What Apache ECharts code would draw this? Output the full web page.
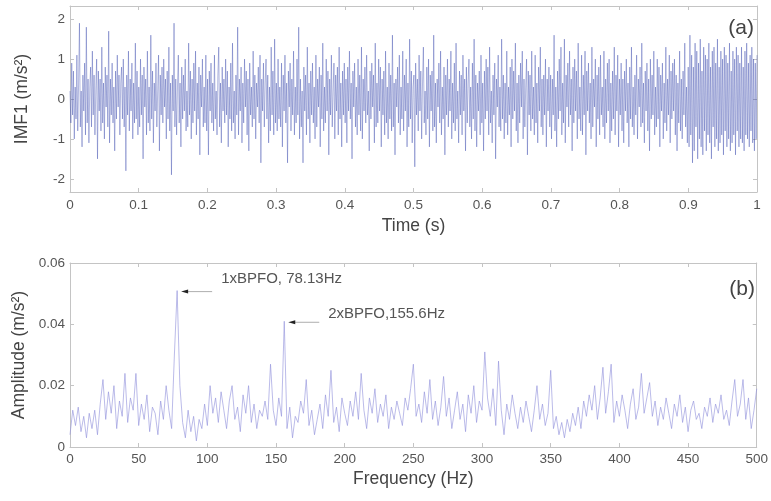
<!DOCTYPE html>
<html>
<head>
<meta charset="utf-8">
<script src="https://cdn.jsdelivr.net/npm/echarts@6/dist/echarts.min.js"></script>
<style>html,body{margin:0;padding:0;background:#fff}#c{width:771px;height:501px}</style>
</head>
<body>
<div id="c"></div>
<script>
// ---- Data ----
const timeTicks = [0, 0.1, 0.2, 0.3, 0.4, 0.5, 0.6, 0.7, 0.8, 0.9, 1];
const imfTicks = [-2, -1, 0, 1, 2];
const freqTicks = [0, 50, 100, 150, 200, 250, 300, 350, 400, 450, 500];
const ampTicks = [0, 0.02, 0.04, 0.06];

// IMF1 time signal (m/s^2), evenly sampled over 0..1 s
const imf1 = [
0.2,-0.6,0.9,-0.4,0.7,-1.0,0.3,-0.5,1.1,-0.8,0.4,1.9,-0.7,0.2,-1.2,0.6,-0.3,0.9,-0.9,1.8,
-0.6,0.5,-1.1,0.3,0.8,-0.7,1.2,-0.4,0.6,-0.9,0.2,1.0,-1.5,0.7,-0.3,0.5,-0.8,1.3,-0.6,0.4,
-1.0,0.8,-0.2,0.6,-0.7,1.7,-1.1,0.5,-0.4,0.9,-0.6,0.3,-1.3,0.7,-0.5,1.1,-0.2,0.6,-0.9,0.4,
0.8,-0.5,1.0,-0.7,0.3,-1.8,0.6,-0.4,1.2,-0.8,0.5,-0.3,0.9,-1.0,0.4,-0.6,1.4,-0.5,0.7,-0.9,
0.3,-0.7,1.0,-0.4,0.6,-1.5,0.8,-0.2,0.5,-0.9,1.2,-0.6,0.3,-0.8,1.6,-0.5,0.7,-1.1,0.4,-0.3,
0.9,-0.7,0.2,1.1,-1.3,0.6,-0.4,0.8,-0.6,1.0,-0.2,0.5,-1.0,0.7,-0.5,1.3,-0.8,0.4,-1.9,0.6,
-0.3,1.9,-0.7,0.5,-0.9,0.3,1.1,-0.6,0.4,-1.2,0.8,-0.5,0.6,-0.3,1.0,-0.8,0.2,-0.7,1.4,-0.4,
0.7,-1.0,0.5,-0.6,0.9,-0.3,1.2,-0.9,0.4,-0.5,0.8,-1.4,0.6,-0.2,1.0,-0.7,0.3,-0.6,1.1,-0.8,
0.5,-1.4,0.7,-0.3,0.9,-0.6,0.4,-0.8,1.1,-0.5,0.2,-0.9,0.6,1.3,-0.7,0.4,-1.1,0.8,-0.3,0.5,
-0.6,1.0,-0.4,0.7,-1.2,0.3,-0.5,0.9,-0.8,1.4,-0.6,0.2,-1.0,0.6,-0.4,1.8,-0.9,0.5,-0.3,0.8,
-1.1,0.4,-0.6,1.0,-0.2,0.7,-0.9,0.5,-1.3,0.9,-0.4,0.3,-0.7,1.2,-0.5,0.6,-1.0,0.4,-0.2,0.8,
-0.6,1.1,-1.6,0.5,-0.3,0.9,-0.7,0.4,1.0,-0.5,0.6,-1.1,0.3,-0.8,1.3,-0.4,0.7,-0.9,1.5,-0.6,
0.4,-0.8,1.0,-0.5,0.3,-0.7,0.9,-1.2,0.6,-0.3,1.1,-0.6,0.4,-1.6,0.7,-0.2,0.9,-0.8,0.5,-0.4,
1.2,-0.9,0.3,-0.6,1.0,-0.4,1.8,-1.0,0.5,-0.7,0.2,-1.6,0.8,-0.3,0.6,-0.9,1.3,-0.5,0.4,-1.1,
0.7,-0.4,0.9,-0.6,0.3,-1.0,1.1,-0.7,0.5,-0.2,0.8,-1.2,0.6,-0.5,1.4,-0.8,0.3,-0.6,1.0,-0.3,
0.7,-1.4,0.5,-0.4,1.1,-0.7,0.2,0.9,-1.0,0.6,-0.3,0.8,-0.9,1.3,-0.5,0.4,-1.2,0.7,-0.4,0.9,
-0.6,0.5,-1.1,0.8,-0.3,1.2,-0.5,0.4,-1.5,0.7,-0.2,0.9,-0.7,0.3,-0.9,1.0,-0.4,0.6,-0.8,1.3,
-1.0,0.5,-0.3,0.8,-0.6,1.1,-0.4,0.2,-1.3,0.7,-0.5,0.9,-0.2,0.6,-1.1,1.4,-0.7,0.4,-0.6,1.0,
-0.3,0.8,-1.2,0.5,-0.4,0.7,-0.9,1.2,-0.6,0.3,-1.0,0.9,-0.5,0.6,-0.8,1.6,-0.7,0.4,-1.4,0.5,
-0.2,0.8,-0.6,1.1,-0.9,0.3,-0.5,1.2,-0.8,0.6,-0.3,1.0,-1.2,0.4,-0.7,1.5,-0.5,0.7,-1.1,0.3,
0.6,-1.7,0.9,-0.4,0.5,-0.8,1.1,-0.3,0.7,-1.0,0.4,1.3,-0.6,0.2,-0.9,0.8,-0.5,1.0,-1.2,0.6,
-0.3,0.7,-0.8,1.6,-0.7,0.4,-1.1,0.5,-0.2,0.9,-0.6,1.2,-0.9,0.3,-0.5,0.8,-1.4,0.6,-0.4,1.0,
-0.7,0.5,-0.3,1.2,-1.0,0.4,-0.6,0.9,-0.8,1.4,-0.5,0.2,-1.1,0.7,-0.4,0.6,-0.9,1.1,-0.3,0.5,
-1.3,0.8,-0.6,0.4,1.0,-0.7,0.3,-1.0,0.9,-0.5,1.5,-0.8,0.6,-1.2,0.4,-0.3,0.7,-0.9,1.1,-0.6,
0.4,-1.3,0.7,-0.5,1.0,-0.3,0.8,-0.9,1.3,-0.6,0.2,-1.1,0.6,-0.4,0.9,-1.5,0.5,-0.2,1.1,-0.7,
0.3,-0.8,1.5,-0.5,0.6,-1.0,0.4,-0.6,1.2,-0.9,0.3,-0.4,0.8,-1.2,1.0,-0.5,0.7,-0.3,1.4,-0.8,
0.4,-1.1,0.6,-0.6,0.9,-0.2,1.2,-1.0,0.5,-0.7,0.3,1.0,-1.4,0.7,-0.4,0.6,-0.8,1.2,-0.5,0.3,
-0.9,1.1,-0.6,0.4,-1.1,0.8,-0.3,1.3,-0.7,0.5,-0.9,0.6,-0.4,1.0,-1.2,0.5,-0.3,0.8,-0.7,0.6,
-1.0,0.5,-0.4,1.6,-0.8,0.3,-1.2,0.7,-0.5,1.0,-0.3,1.3,-0.9,0.4,-0.6,1.5,-1.1,0.6,-0.2,0.9,
-0.7,1.2,-0.4,0.5,-1.3,0.8,-0.6,1.0,-0.3,0.7,-1.0,1.4,-0.5,0.3,-0.8,1.1,-0.9,0.6,-0.4,1.2,
-1.4,0.7,-0.3,0.9,-0.6,0.4,-1.0,1.3,-0.7,0.5,-0.2,1.0,-1.2,0.6,-0.5,0.8,-0.9,1.1,-0.4,0.3,
-0.7,1.2,-1.0,0.5,-0.6,0.9,-0.3,1.0,-1.1,0.4,-0.8,0.7,-0.5,1.3,-0.9,0.6,-0.3,1.1,-1.2,0.5,
-0.4,0.9,-0.8,0.5,-1.1,0.7,-0.3,1.0,-0.6,0.4,-1.2,0.8,-0.5,1.3,-0.7,0.3,-0.9,0.6,-0.4,1.1,
-1.0,0.5,-0.2,0.8,-0.7,1.4,-0.6,0.4,-1.1,0.7,-0.3,0.9,-0.8,0.5,-1.3,1.0,-0.5,0.6,-0.4,1.2,
-0.9,0.3,-0.7,1.0,-0.5,0.8,-1.2,0.6,-0.3,0.9,-1.0,0.4,-0.6,1.3,-0.8,0.5,-0.4,1.1,-1.1,0.7,
-0.5,0.9,-0.3,1.0,-0.9,0.6,-1.3,0.4,-0.6,1.2,-0.8,0.5,-1.0,0.7,-0.4,1.4,-0.7,0.3,-1.1,0.8,
-1.2,1.6,-0.9,1.1,-1.6,0.8,-1.3,1.4,-0.7,1.2,-1.5,0.9,-1.0,1.5,-1.2,0.7,-1.4,1.3,-0.8,1.1,
-1.3,1.0,-0.9,1.4,-1.1,0.8,-1.5,1.2,-0.7,1.3,-1.2,0.9,-1.0,1.5,-1.3,0.8,-1.1,1.2,-0.9,1.0,
-1.4,1.3,-0.8,1.1,-1.2,0.9,-1.0,1.4,-1.3,0.7,-1.1,1.2,-0.9,1.0,-1.4,1.3,-0.8,1.1,-1.2,0.9,
-1.0,1.3,-1.1,0.8,-1.3,1.2,-0.9,1.4,-1.0,0.9,-1.2,1.1,-0.8,1.3,-1.1,1.0,-1.3,0.9,-1.0,1.1
];

// Amplitude spectrum (m/s^2), evenly spaced bins over 0..500 Hz
const spectrum = [
0.004,0.012,0.007,0.013,0.005,0.010,0.003,0.011,0.006,0.012,0.004,
0.014,0.022,0.009,0.018,0.011,0.020,0.006,0.015,0.010,0.024,
0.008,0.016,0.012,0.024,0.007,0.014,0.009,0.017,0.005,0.013,
0.011,0.004,0.015,0.009,0.020,0.012,0.006,0.030,0.051,
0.020,0.008,0.003,0.012,0.005,0.010,0.002,0.009,0.006,0.014,0.007,
0.020,0.011,0.016,0.008,0.018,0.012,0.006,0.015,0.020,0.009,
0.013,0.005,0.017,0.011,0.020,0.008,0.014,0.006,0.012,0.010,
0.015,0.009,0.027,0.012,0.007,0.016,0.010,0.041,
0.006,0.013,0.003,0.010,0.008,0.015,0.011,0.022,0.007,0.012,0.004,0.009,
0.014,0.006,0.017,0.010,0.025,0.008,0.013,0.005,0.016,0.011,
0.007,0.015,0.010,0.018,0.009,0.024,0.012,0.006,0.016,0.011,
0.019,0.008,0.014,0.010,0.017,0.006,0.013,0.009,0.015,0.011,
0.007,0.016,0.012,0.019,0.027,0.010,0.014,0.008,0.018,0.011,
0.022,0.009,0.015,0.007,0.013,0.023,0.010,0.016,0.006,0.012,
0.018,0.009,0.014,0.005,0.017,0.011,0.020,0.008,0.015,0.012,
0.031,0.016,0.010,0.019,0.007,0.028,0.012,0.004,0.014,0.009,
0.017,0.011,0.006,0.013,0.008,0.015,0.010,0.005,0.012,0.020,
0.009,0.014,0.007,0.011,0.025,0.006,0.010,0.004,0.008,0.003,
0.009,0.005,0.011,0.007,0.013,0.006,0.015,0.010,0.017,0.012,
0.020,0.009,0.016,0.026,0.011,0.018,0.027,0.008,0.015,0.010,
0.017,0.012,0.006,0.014,0.019,0.009,0.013,0.024,0.011,0.016,
0.021,0.010,0.015,0.007,0.013,0.009,0.016,0.011,0.006,0.014,
0.010,0.017,0.008,0.013,0.005,0.012,0.015,0.009,0.011,0.006,
0.013,0.010,0.016,0.008,0.014,0.011,0.017,0.009,0.012,0.007,
0.015,0.022,0.010,0.014,0.022,0.009,0.016,0.006,0.012,0.019
];

const annotFreqs = [78.13, 155.6];
const annotTexts = ['1xBPFO, 78.13Hz', '2xBPFO,155.6Hz'];

// ---- Build ----
const tEnd = 1, fEnd = 500;
const imfData = imf1.map((v, i) => [i * tEnd / (imf1.length - 1), v]);
const specData = spectrum.map((v, i) => [i * fEnd / (spectrum.length - 1), v]);

const FONT = 'Liberation Sans, Arial, sans-serif';
const boxColor = '#c4c4c4';
const labelColor = '#555';
const nameStyle = {fontFamily: FONT, fontSize: 17.5, color: '#444'};

function ax(grid, pos, show, ticks, min, max, name, gap, margin) {
  return {
    type: 'value', gridIndex: grid, position: pos, min: min, max: max,
    name: show ? name : '', nameLocation: 'middle', nameGap: gap,
    nameTextStyle: nameStyle,
    axisLine: {show: true, onZero: false, lineStyle: {color: boxColor, width: 1}},
    axisTick: {show: true, inside: true, length: 4, customValues: ticks, lineStyle: {color: boxColor}},
    axisLabel: {show: show, customValues: ticks, margin: margin, fontFamily: FONT, fontSize: 13.5, color: labelColor},
    splitLine: {show: false}
  };
}

const chart = echarts.init(document.getElementById('c'), null, {renderer: 'canvas'});
chart.setOption({
  animation: false,
  backgroundColor: '#fff',
  grid: [
    {left: 70, right: 14, top: 6, height: 186},
    {left: 70, right: 14, top: 263, height: 184}
  ],
  xAxis: [
    ax(0, 'bottom', true, timeTicks, 0, 1, 'Time (s)', 25, 6),
    ax(0, 'top', false, timeTicks, 0, 1, '', 0, 6),
    ax(1, 'bottom', true, freqTicks, 0, 500, 'Frequency (Hz)', 23, 5),
    ax(1, 'top', false, freqTicks, 0, 500, '', 0, 5)
  ],
  yAxis: [
    ax(0, 'left', true, imfTicks, -2.33, 2.33, 'IMF1 (m/s²)', 39, 5),
    ax(0, 'right', false, imfTicks, -2.33, 2.33, '', 0, 5),
    ax(1, 'left', true, ampTicks, 0, 0.06, 'Amplitude (m/s²)', 37, 5),
    ax(1, 'right', false, ampTicks, 0, 0.06, '', 0, 5)
  ],
  series: [
    {type: 'line', xAxisIndex: 0, yAxisIndex: 0, data: imfData, showSymbol: false, sampling: 'none',
     lineStyle: {color: '#3343aa', width: 0.9, opacity: 0.42}},
    {type: 'line', xAxisIndex: 2, yAxisIndex: 2, data: specData, showSymbol: false, sampling: 'none',
     lineStyle: {color: '#9494dc', width: 0.75, opacity: 0.85}}
  ]
});

// ---- Annotations anchored to the spectrum peaks ----
const graphics = [];
const textDy = [-13, -8];
annotFreqs.forEach((f, k) => {
  let best = 0;
  specData.forEach((p, i) => { if (Math.abs(p[0] - f) < Math.abs(specData[best][0] - f)) best = i; });
  const px = chart.convertToPixel({seriesIndex: 1}, specData[best]);
  const tipX = px[0] + 4, y = px[1] + 1, tailX = px[0] + 35;
  graphics.push({type: 'line', shape: {x1: tipX + 4, y1: y, x2: tailX, y2: y}, style: {stroke: '#999', lineWidth: 0.8}});
  graphics.push({type: 'polygon', shape: {points: [[tipX, y], [tipX + 7, y - 2], [tipX + 7, y + 2]]}, style: {fill: '#222'}});
  graphics.push({type: 'text', x: tailX + 9, y: y + textDy[k],
    style: {text: annotTexts[k], font: '15px ' + FONT, fill: '#555', verticalAlign: 'middle', align: 'left'}});
});
// panel labels
graphics.push({type: 'text', x: 754, y: 28, style: {text: '(a)', font: '21px ' + FONT, fill: '#444', align: 'right', verticalAlign: 'middle'}});
graphics.push({type: 'text', x: 755, y: 289, style: {text: '(b)', font: '21px ' + FONT, fill: '#444', align: 'right', verticalAlign: 'middle'}});
chart.setOption({graphic: graphics});
</script>
</body>
</html>
